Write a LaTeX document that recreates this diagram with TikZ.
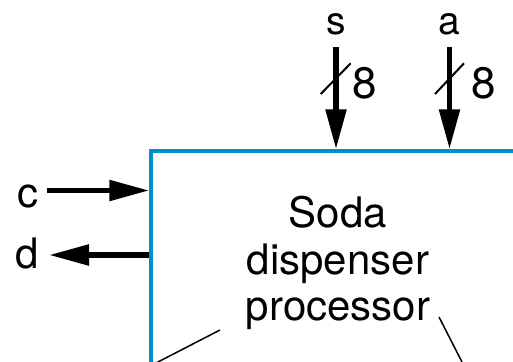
\documentclass[tikz,border=0pt]{standalone}
\usepackage{fontspec}
\setmainfont{TeX Gyre Heros}
\usetikzlibrary{arrows.meta}
\definecolor{boxblue}{RGB}{0,143,208}
\begin{document}
\begin{tikzpicture}[x=1pt,y=-1pt,
  sig/.style={line width=5.5pt,-{Triangle[length=40pt,width=20pt]}},
  busmark/.style={line width=2pt},
  thin/.style={line width=1.5pt},
  lbl/.style={inner sep=0pt,font=\fontsize{42}{46.5}\selectfont},
  portlbl/.style={inner sep=0pt,font=\fontsize{39}{42}\selectfont},
  widthlbl/.style={inner sep=0pt,font=\fontsize{44}{48}\selectfont}]
\useasboundingbox (0,0) rectangle (513,361);
\clip (0,0) rectangle (513,361);
% processor box
\node[draw=boxblue, line width=3.5pt, minimum width=374pt, minimum height=220pt, inner sep=0pt] (proc) at (338,261) {};
\node[lbl, align=center, anchor=north] (txt) at (338,196) {Soda\\dispenser\\processor};
% s input
\node[portlbl] (s) at (336,24.5) {s};
\coordinate (sTop) at (336,47);
\draw[sig] (sTop) -- (sTop |- proc.north);
\draw[busmark] (320.7,94) -- (350.7,63.3);
\node[widthlbl] (s8) at (365,83) {8};
% a input
\node[portlbl] (a) at (449.5,24.5) {a};
\coordinate (aTop) at (449.5,47);
\draw[sig] (aTop) -- (aTop |- proc.north);
\draw[busmark] (435,94) -- (464,63.3);
\node[widthlbl] (a8) at (483.5,83) {8};
% c input
\node[lbl] (c) at (28,196) {c};
\coordinate (cStart) at (46.7,190.5);
\draw[sig] (cStart) -- (cStart -| proc.west);
% d output
\node[lbl] (d) at (27.5,254) {d};
\coordinate (dEnd) at (49,255);
\draw[sig] (dEnd -| proc.west) -- (dEnd);
% pointer lines
\draw[thin] (156,363) -- (220,330);
\draw[thin] (439,317) -- (462,362);
\end{tikzpicture}
\end{document}
